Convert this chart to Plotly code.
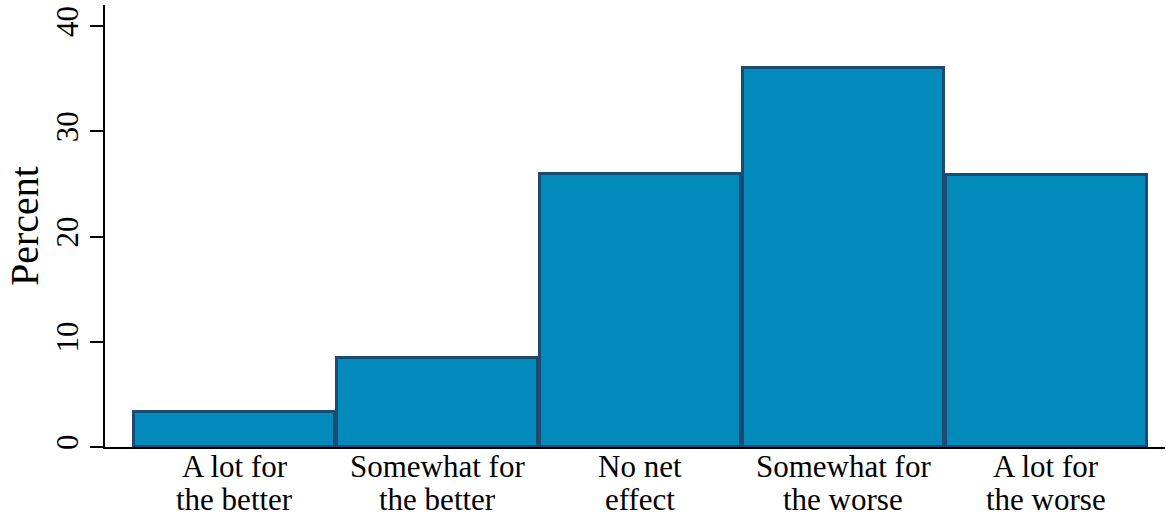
import plotly.graph_objects as go

line1 = ["A lot for", "Somewhat for", "No net", "Somewhat for", "A lot for"]
line2 = ["the better", "the better", "effect", "the worse", "the worse"]
positions = [1, 2, 3, 4, 5]
percent = [3.3, 8.5, 25.9, 36.0, 25.85]
y_ticks = [0, 10, 20, 30, 40]

FONT = "Liberation Serif"

fig = go.Figure(go.Bar(
    x=positions, y=percent, width=0.99,
    marker=dict(color="#028abb", line=dict(color="#1b4a72", width=3)),
))

annotations = []
for xp, a, b in zip(positions, line1, line2):
    annotations.append(dict(x=xp, y=0, xref="x", yref="paper", text=a, showarrow=False,
                            yanchor="top", xanchor="center", yshift=0,
                            font=dict(size=31, family=FONT, color="black")))
    annotations.append(dict(x=xp, y=0, xref="x", yref="paper", text=b, showarrow=False,
                            yanchor="top", xanchor="center", yshift=-33,
                            font=dict(size=31, family=FONT, color="black")))
annotations.append(dict(x=0, y=0.5, xref="paper", yref="paper", text="Percent", showarrow=False,
                        textangle=-90, xanchor="center", yanchor="middle", xshift=-81,
                        font=dict(size=40, family=FONT, color="black")))

fig.update_layout(
    width=1166, height=518,
    margin=dict(l=105, r=1, t=5, b=71, autoexpand=False),
    plot_bgcolor="white", paper_bgcolor="white",
    showlegend=False,
    font=dict(family=FONT, color="black"),
    bargap=0,
    annotations=annotations,
)
fig.update_xaxes(
    range=[0.362, 5.584], showticklabels=False, automargin=False,
    showline=True, linecolor="black", linewidth=1.5,
    ticks="", showgrid=False, zeroline=False,
)
fig.update_yaxes(
    range=[0, 42], tickvals=y_ticks, tickangle=-90, automargin=False,
    showline=True, linecolor="black", linewidth=1.5,
    ticks="outside", ticklen=13, tickwidth=1.5, tickcolor="black",
    showgrid=False, zeroline=False,
    tickfont=dict(size=31, family=FONT, color="black"),
)

fig.write_html("out.html", config={"displayModeBar": False},
               post_script="document.body.style.margin='0';")
